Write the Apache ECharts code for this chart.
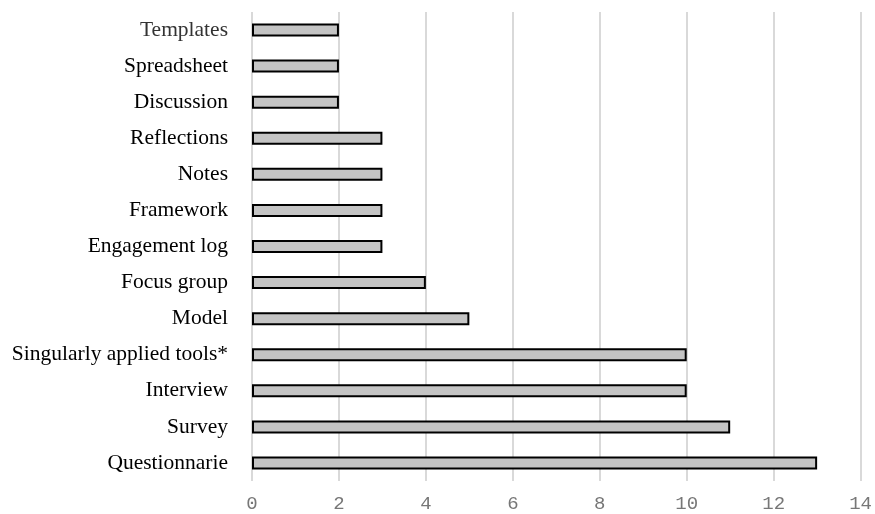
<!DOCTYPE html>
<html><head><meta charset="utf-8">
<script src="https://cdn.jsdelivr.net/npm/echarts@6/dist/echarts.min.js"></script>
<style>html,body{margin:0;padding:0;background:#fff}#c{width:875px;height:514px}</style>
</head><body><div id="c"></div>
<script>
const categories = ["Questionnarie","Survey","Interview","Singularly applied tools*","Model","Focus group","Engagement log","Framework","Notes","Reflections","Discussion","Spreadsheet","Templates"];
const values = [13,11,10,10,5,4,3,3,3,3,2,2,2];
const xTicks = [0,2,4,6,8,10,12,14];

const chart = echarts.init(document.getElementById('c'), null, {renderer:'canvas'});
chart.setOption({
  animation:false,
  grid:{left:252,right:10,top:12,bottom:33,containLabel:false},
  xAxis:{type:'value',min:xTicks[0],max:xTicks[xTicks.length-1],interval:2,
    axisLine:{show:false},axisTick:{show:false},
    splitLine:{show:true,lineStyle:{color:'#d9d9d9',width:2}},
    axisLabel:{color:'#777',fontFamily:'Liberation Mono',fontSize:19,margin:13}},
  yAxis:{type:'category',data:categories,
    axisLine:{show:false},axisTick:{show:false},
    axisLabel:{fontFamily:'Liberation Serif',fontSize:21.5,margin:24,
      color:function(v){return v==='Templates'?'#333':'#000';}}},
  series:[{type:'bar',data:values,barWidth:13,
    itemStyle:{color:'#c4c4c4',borderColor:'#000',borderWidth:2}}]
});
</script></body></html>
